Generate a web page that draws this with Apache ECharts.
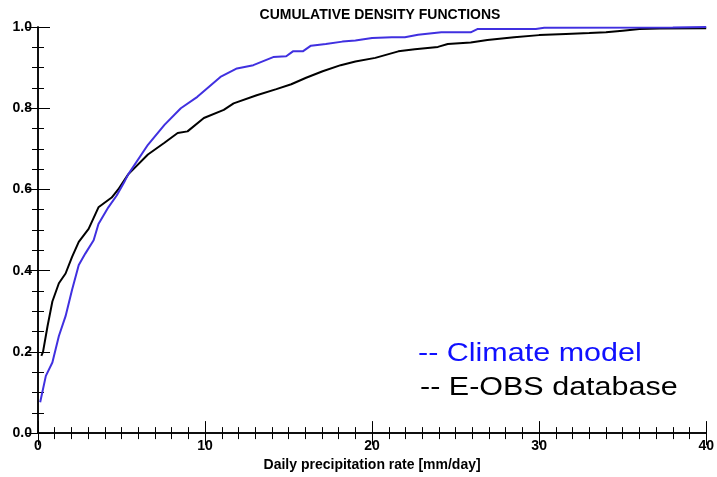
<!DOCTYPE html>
<html><head><meta charset="utf-8">
<script src="https://cdn.jsdelivr.net/npm/echarts@6/dist/echarts.min.js"></script>
<style>html,body{margin:0;padding:0;background:#fff}#c{width:717px;height:477px}</style>
</head><body><div id="c"></div>
<script>
const titleText = "CUMULATIVE DENSITY FUNCTIONS";
const xAxisName = "Daily precipitation rate [mm/day]";
const legendModel = "-- Climate model";
const legendObs = "-- E-OBS database";

const modelX = [0.13,0.47,0.86,1.25,1.65,2.04,2.44,2.83,3.33,3.62,4.21,4.71,5.2,5.4,6.58,7.57,8.55,9.54,10.92,11.91,12.89,14.08,14.86,15.26,15.85,16.34,17.23,18.22,19.0,20.0,21.18,21.96,22.75,24.14,25.9,26.3,29.8,30.3,38,40];
const modelY = [0.076,0.141,0.174,0.239,0.288,0.353,0.414,0.442,0.475,0.515,0.556,0.585,0.621,0.637,0.710,0.759,0.800,0.828,0.877,0.898,0.906,0.926,0.928,0.94,0.94,0.954,0.958,0.964,0.967,0.973,0.975,0.975,0.981,0.987,0.987,0.995,0.995,0.998,0.999,1.0];

const obsX = [0.2,0.3,0.57,0.86,1.25,1.65,2.04,2.44,3.03,3.62,4.41,4.8,5.4,6.58,7.57,8.36,8.95,9.93,11.12,11.71,13.09,14.27,15.16,16.05,17.04,18.12,19.0,20.19,21.57,22.56,23.94,24.53,25.9,26.9,28.5,30.0,31.6,33.0,34.0,35.0,36.0,37.2,40];
const obsY = [0.19,0.2,0.263,0.324,0.369,0.393,0.434,0.471,0.503,0.556,0.580,0.60,0.637,0.686,0.715,0.739,0.743,0.776,0.796,0.812,0.832,0.847,0.859,0.875,0.891,0.906,0.915,0.924,0.940,0.945,0.951,0.958,0.962,0.968,0.975,0.980,0.983,0.985,0.987,0.991,0.995,0.996,0.997];

const font = "'Liberation Sans Narrow','Liberation Sans',Arial,sans-serif";
const pair = (xs, ys) => xs.map((x, i) => [x, ys[i]]);

const line = {show: true, lineStyle: {color: '#000', width: 1.5}};
const tick = {show: true, inside: true, length: 12, lineStyle: {color: '#000', width: 1}};
const minor = n => ({show: true, splitNumber: n, length: 6, lineStyle: {color: '#000', width: 1}});
const labelStyle = {fontFamily: font, fontSize: 14, fontWeight: 'bold', color: '#000', margin: 6};

const chart = echarts.init(document.getElementById('c'));
chart.setOption({
  animation: false,
  backgroundColor: '#fff',
  title: {text: titleText, left: 375, textAlign: 'center', top: 3,
    textStyle: {fontFamily: font, fontSize: 14, fontWeight: 'bold', color: '#000'}},
  grid: {left: 38, right: 6, top: 27, bottom: 40},
  xAxis: [
    {type: 'value', min: 0, max: 40, interval: 10, position: 'bottom',
      name: xAxisName, nameLocation: 'middle', nameGap: 22,
      nameTextStyle: {fontFamily: font, fontSize: 14, fontWeight: 'bold', color: '#000'},
      axisLabel: Object.assign({showMaxLabel: true}, labelStyle),
      axisLine: line, axisTick: tick, minorTick: minor(10), splitLine: {show: false}},
    {type: 'value', min: 0, max: 40, interval: 10, position: 'top',
      axisLabel: {show: false},
      axisLine: line, axisTick: tick, minorTick: minor(10), splitLine: {show: false}}
  ],
  yAxis: [
    {type: 'value', min: 0, max: 1, interval: 0.2, position: 'left',
      axisLabel: Object.assign({formatter: v => v.toFixed(1)}, labelStyle),
      axisLine: line, axisTick: tick, minorTick: minor(4), splitLine: {show: false}},
    {type: 'value', min: 0, max: 1, interval: 0.2, position: 'right',
      axisLabel: {show: false},
      axisLine: line, axisTick: tick, minorTick: minor(4), splitLine: {show: false}}
  ],
  series: [
    {type: 'line', name: 'E-OBS database', data: pair(obsX, obsY), xAxisIndex: 0, yAxisIndex: 0,
      showSymbol: false, lineStyle: {color: '#000', width: 2}, z: 3},
    {type: 'line', name: 'Climate model', data: pair(modelX, modelY), xAxisIndex: 0, yAxisIndex: 0,
      showSymbol: false, lineStyle: {color: '#4030e0', width: 2}, z: 4}
  ],
  graphic: [
    {type: 'text', left: 418, top: 342, scaleX: 1.22,
      style: {text: legendModel, fill: '#1010ff', font: "25px 'Liberation Sans', Arial, sans-serif"}},
    {type: 'text', left: 420, top: 376, scaleX: 1.22,
      style: {text: legendObs, fill: '#000', font: "25px 'Liberation Sans', Arial, sans-serif"}}
  ]
});
</script>
</body></html>
